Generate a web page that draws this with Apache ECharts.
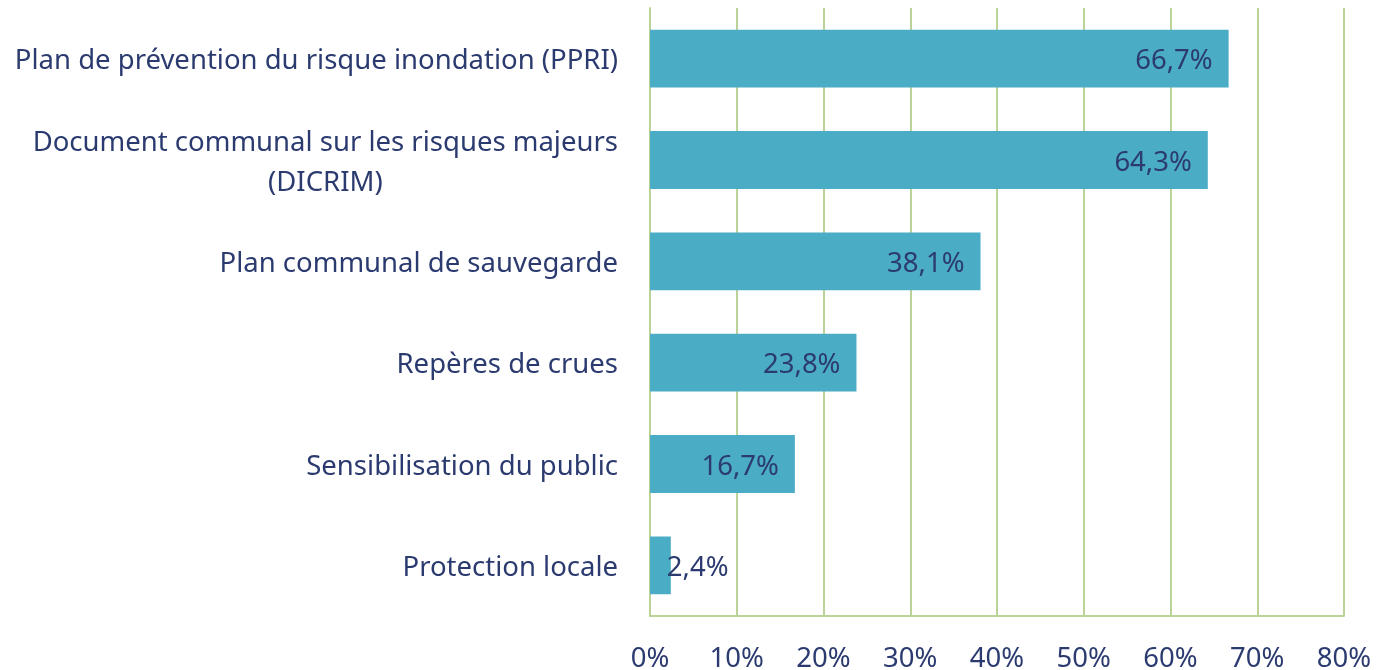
<!DOCTYPE html>
<html>
<head>
<meta charset="utf-8">
<script src="https://cdn.jsdelivr.net/npm/echarts@6/dist/echarts.min.js"></script>
<style>
  html, body { margin: 0; padding: 0; background: #fff; }
  #main { width: 1383px; height: 670px; }
</style>
</head>
<body>
<div id="main"></div>
<script>
var categories = [
    'Plan de prévention du risque inondation (PPRI)',
    'Document communal sur les risques majeurs\n(DICRIM)',
    'Plan communal de sauvegarde',
    'Repères de crues',
    'Sensibilisation du public',
    'Protection locale'
];
var values = [66.7, 64.3, 38.1, 23.8, 16.7, 2.4];
var axisTicks = [0, 10, 20, 30, 40, 50, 60, 70, 80];

var textColor = '#2B3B70';
var gridColor = '#BCD397';
var fontName = 'Noto Sans';
var fs = 27.5;

var myChart = echarts.init(document.getElementById('main'));

function pct(v) {
    return String(v.toFixed(1)).replace('.', ',') + '%';
}

var option = {
    animation: false,
    grid: { left: 650, right: 39, top: 8, bottom: 54, outerBoundsMode: 'none', containLabel: false },
    xAxis: {
        type: 'value',
        min: axisTicks[0],
        max: axisTicks[axisTicks.length - 1],
        interval: 10,
        axisLine: { show: true, lineStyle: { color: gridColor, width: 2 } },
        axisTick: { show: false },
        splitLine: { show: true, lineStyle: { color: gridColor, width: 2 } },
        axisLabel: {
            margin: 29,
            color: textColor,
            fontFamily: fontName,
            fontSize: fs,
            formatter: function (v) { return v + '%'; }
        }
    },
    yAxis: {
        type: 'category',
        inverse: true,
        data: categories,
        axisLine: { show: true, lineStyle: { color: gridColor, width: 2 } },
        axisTick: { show: false },
        axisLabel: {
            margin: 32,
            color: textColor,
            fontFamily: fontName,
            fontSize: fs,
            lineHeight: 40,
            padding: [6, 0, 0, 0],
            formatter: function (v) { return '{c|' + v.split('\n').join('}\n{c|') + '}'; },
            rich: {
                c: { align: 'center', color: textColor, fontFamily: fontName, fontSize: fs, lineHeight: 40 }
            }
        }
    },
    series: [{
        type: 'bar',
        barCategoryGap: '43%',
        itemStyle: { color: '#4BACC6' },
        label: {
            show: true,
            position: 'insideRight',
            distance: 16,
            offset: [0, 3],
            color: textColor,
            fontFamily: fontName,
            fontSize: fs,
            formatter: function (p) { return pct(p.value); }
        },
        data: values.map(function (v) {
            if (v < 5) {
                return { value: v, label: { position: 'right', distance: -4 } };
            }
            return v;
        })
    }]
};
myChart.setOption(option);
</script>
</body>
</html>
